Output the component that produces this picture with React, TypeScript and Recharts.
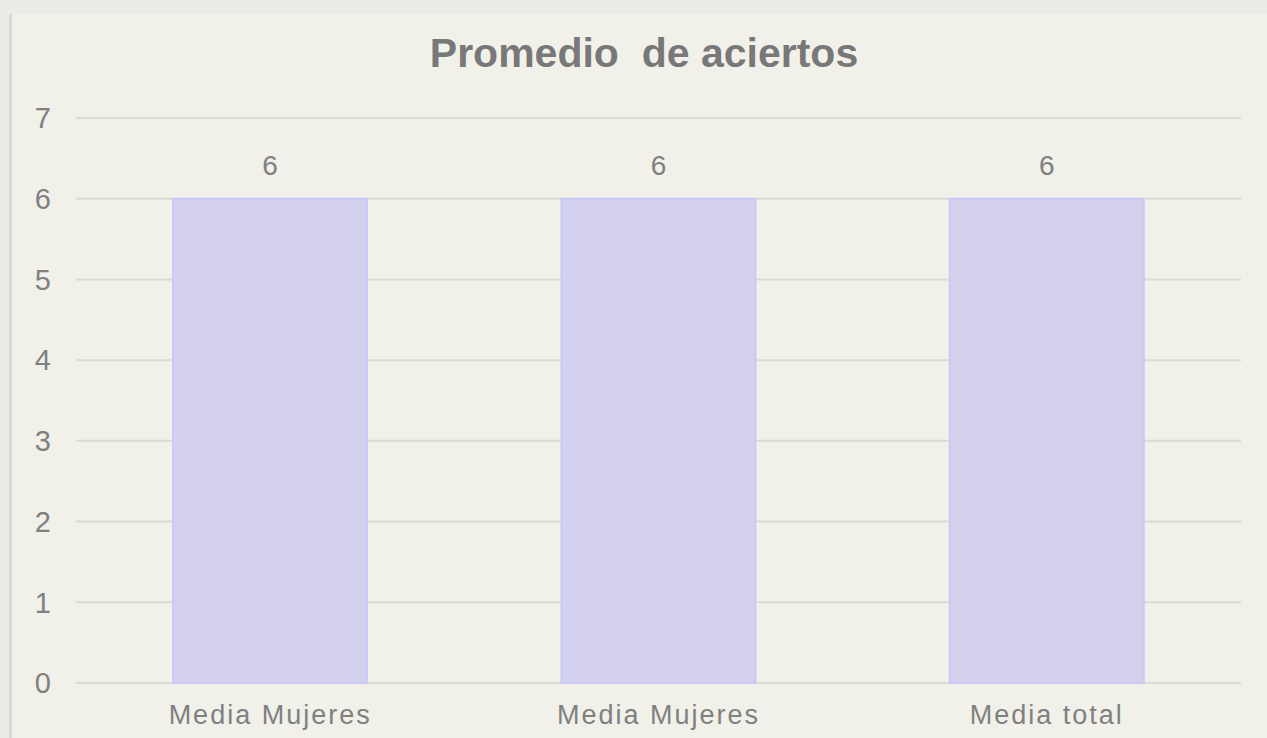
import React from "react";
import { BarChart, Bar, XAxis, YAxis, CartesianGrid, LabelList } from "recharts";

const categories = ["Media Mujeres", "Media Mujeres", "Media total"];
const values = [6, 6, 6];
const yTicks = [0, 1, 2, 3, 4, 5, 6, 7];

const data = categories.map((c, i) => ({ name: c, value: values[i] }));

const textColor = "#808080";
const font = "Liberation Sans, Arial, sans-serif";

export default function App() {
  return (
    <div style={{ position: "relative", width: 1267, height: 738, background: "#ecece6", overflow: "hidden" }}>
      <style>{`body{margin:0}`}</style>
      <div
        style={{
          position: "absolute",
          left: 9,
          top: 14,
          width: 1258,
          height: 724,
          background: "#f1f1ea",
          borderLeft: "3px solid #d9d9d6",
          boxSizing: "border-box",
        }}
      />
      <div
        style={{
          position: "absolute",
          left: 644,
          top: 29,
          transform: "translateX(-50%)",
          fontFamily: font,
          fontWeight: "bold",
          fontSize: 41,
          color: "#787878",
          whiteSpace: "pre",
          lineHeight: "48px",
        }}
      >
        {"Promedio  de aciertos"}
      </div>
      <div style={{ position: "absolute", left: 0, top: 0 }}>
        <BarChart
          width={1267}
          height={738}
          data={data}
          margin={{ top: 118, right: 26, left: 0, bottom: 0 }}
          barCategoryGap="25%"
        >
          <CartesianGrid vertical={false} stroke="#dadad6" strokeWidth={2} />
          <XAxis
            dataKey="name"
            axisLine={false}
            tickLine={false}
            tickSize={0}
            tickMargin={22}
            height={55}
            tick={{ fill: textColor, fontSize: 27, letterSpacing: 2, fontFamily: font }}
            interval={0}
          />
          <YAxis
            domain={[0, 7]}
            ticks={yTicks}
            axisLine={false}
            tickLine={false}
            tickSize={0}
            tickMargin={25}
            width={76}
            tick={{ fill: textColor, fontSize: 29, fontFamily: font }}
          />
          <Bar dataKey="value" fill="#d4d1ef" stroke="#cac8f8" strokeWidth={2} isAnimationActive={false}>
            <LabelList
              dataKey="value"
              position="top"
              offset={24}
              fill={textColor}
              fontSize={28}
              fontFamily={font}
            />
          </Bar>
        </BarChart>
      </div>
    </div>
  );
}
